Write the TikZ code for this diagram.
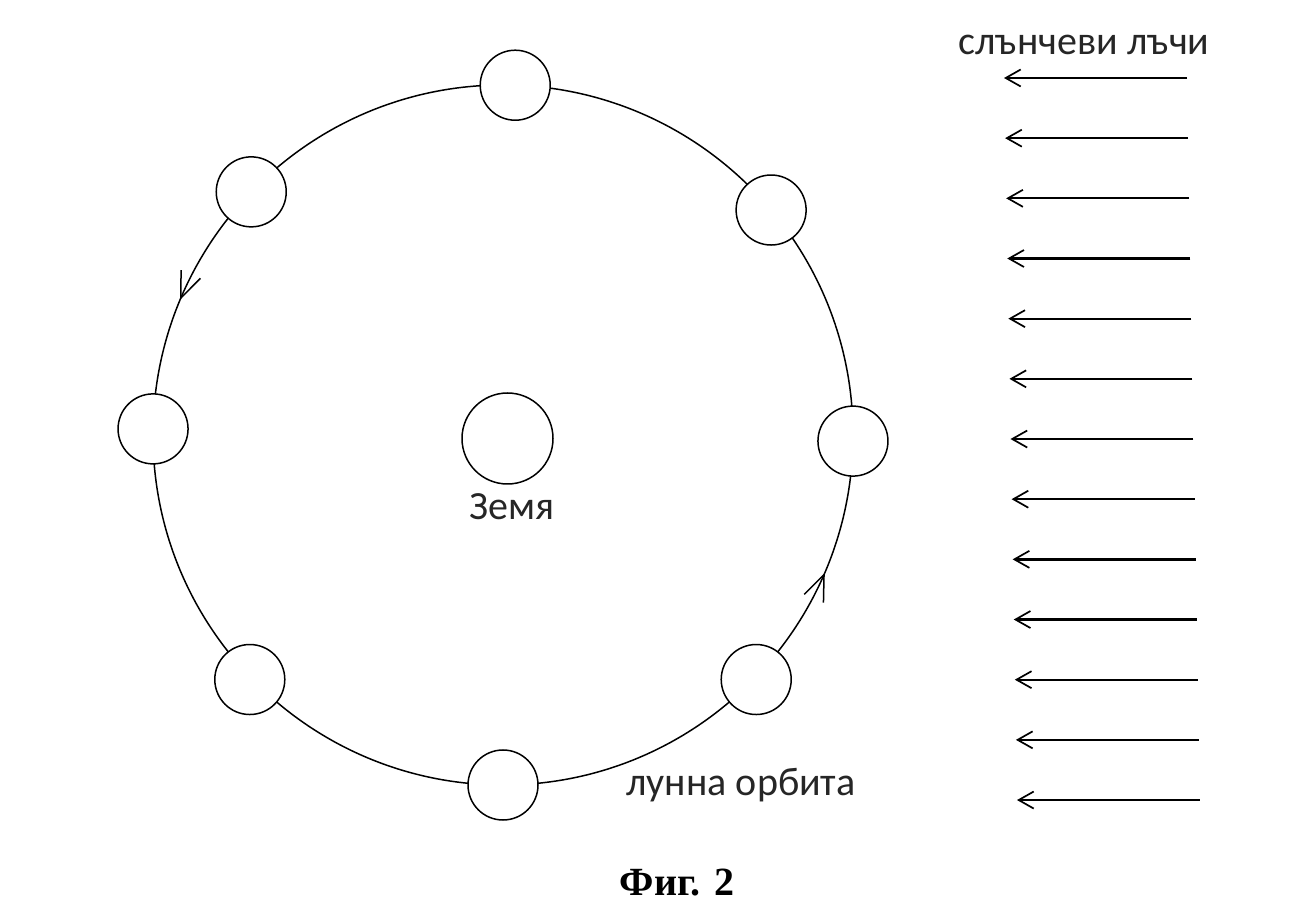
\documentclass[tikz,border=0pt]{standalone}
\usepackage{fontspec}
\setmainfont{Carlito}
\newfontfamily\capfont{Liberation Serif}
\usetikzlibrary{arrows.meta,decorations.markings,calc}
\begin{document}
\begin{tikzpicture}[x=1pt,y=1pt,
  moon/.style={circle,draw,line width=1.5pt,fill=white,minimum size=70pt,inner sep=0pt},
  earth/.style={circle,draw,line width=1.5pt,minimum size=91pt,inner sep=0pt},
  orbitline/.style={line width=1.5pt},
  orbitarrow/.style={line width=1.5pt},
  ray/.style={line width=2.3pt,-{Straight Barb[length=15pt,width=17pt,line width=1.7pt]}},
  lbl/.style={font=\fontsize{40}{42}\selectfont, inner sep=0pt, text=black!85},
  figlbl/.style={font=\capfont\bfseries\fontsize{40}{42}\selectfont, inner sep=0pt},
]
\useasboundingbox (0,0) rectangle (1313,910);
\fill[white] (0,0) rectangle (1313,910);
\coordinate (O) at (503,475);
% orbit with direction arrows
\draw[orbitline, postaction={decorate}, decoration={markings,
   mark=at position 0.437 with {\arrow[orbitarrow]{Straight Barb[angle=44:28pt]}},
   mark=at position 0.9356 with {\arrow[orbitarrow]{Straight Barb[angle=44:28pt]}}}]
   (O) circle (350);
% moons
\node[moon] (m1) at ($(O)+(88:350pt)$) {};
\node[moon] (m2) at ($(O)+(40:350pt)$) {};
\node[moon] (m3) at ($(O)+(-1:350pt)$) {};
\node[moon] (m4) at ($(O)+(-44:352pt)$) {};
\node[moon] (m5) at ($(O)+(-90:350pt)$) {};
\node[moon] (m6) at ($(O)+(-136:352pt)$) {};
\node[moon] (m7) at ($(O)+(179:350pt)$) {};
\node[moon] (m8) at ($(O)+(136:350pt)$) {};
% earth
\node[earth] (earth) at (507.5,471.5) {};
\node[lbl, anchor=base] (earthlbl) at (512,390) {Земя};
\node[lbl, anchor=base] (orbitlbl) at (741,115) {лунна орбита};
% sun rays
\node[lbl, anchor=base] (raylbl) at (1084,855) {слънчеви лъчи};
\foreach \i in {0,...,12}{
  \pgfmathsetmacro\yy{832-60.17*\i}
  \pgfmathsetmacro\xl{1004+1.08*\i}
  \pgfmathsetmacro\xr{1187+1.08*\i}
  \coordinate (rs\i) at (\xr,\yy);
  \coordinate (re\i) at (\xl,\yy);
  \draw[ray] (rs\i) -- (re\i);
}
\node[figlbl, anchor=base] (fig) at (677,15) {Фиг. 2};
\end{tikzpicture}
\end{document}
